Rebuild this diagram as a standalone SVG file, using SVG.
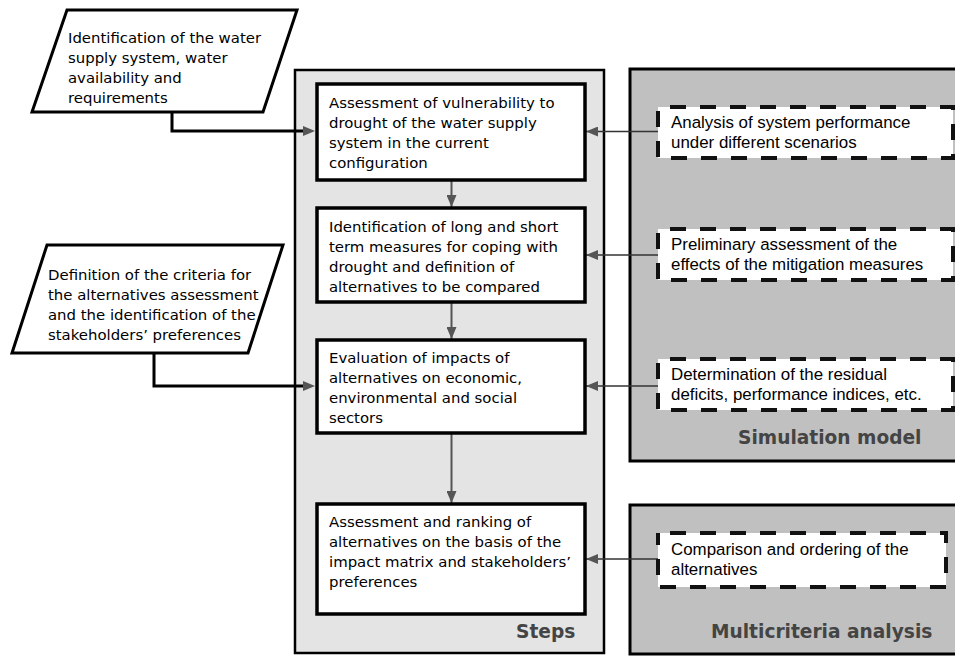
<svg xmlns="http://www.w3.org/2000/svg" width="955" height="656" viewBox="0 0 955 656">
<defs>
<marker id="ah" markerWidth="12" markerHeight="10" refX="12" refY="5" orient="auto" markerUnits="userSpaceOnUse">
<path d="M0,0 L12,5 L0,10 Z" fill="#555"/>
</marker>
<style>
.t{font-family:"DejaVu Sans",Verdana,sans-serif;font-size:14.9px;fill:#000}
.a{font-family:"Liberation Sans",Arial,sans-serif;font-size:16.9px;fill:#000}
.ttl{font-family:"DejaVu Sans",Verdana,sans-serif;font-weight:bold;font-size:18.6px;fill:#444}
.para{fill:#fff;stroke:#000;stroke-width:3}
.step{fill:#fff;stroke:#000;stroke-width:3.5}
.dash{fill:#fff;stroke:#111;stroke-width:4;stroke-dasharray:16 14;stroke-dashoffset:18}
.conn{fill:none;stroke:#000;stroke-width:3}
.vconn{fill:none;stroke:#555;stroke-width:2}
.hconn{fill:none;stroke:#333;stroke-width:1.6}
</style>
</defs>
<rect width="955" height="656" fill="#fff"/>

<g id="panel-steps">
<rect x="295" y="70" width="309" height="583" fill="#e4e4e4" stroke="#000" stroke-width="2.5"/>
<text class="ttl" x="516" y="638">Steps</text>
</g>
<g id="panel-simulation">
<rect x="630" y="69" width="330" height="392" fill="#c0c0c0" stroke="#000" stroke-width="3"/>
<text class="ttl" x="738" y="444">Simulation model</text>
</g>
<g id="panel-multicriteria">
<rect x="630" y="505" width="330" height="149" fill="#c0c0c0" stroke="#000" stroke-width="3"/>
<text class="ttl" x="711" y="638">Multicriteria analysis</text>
</g>

<g id="connectors">
<polyline class="conn" points="172,112 172,131 303,131"/>
<path d="M303,126 L315,131 L303,136 Z" fill="#555"/>
<polyline class="conn" points="154,353 154,386 303,386"/>
<path d="M303,381 L315,386 L303,391 Z" fill="#555"/>
<line class="vconn" x1="451.5" y1="181" x2="451.5" y2="207" marker-end="url(#ah)"/>
<line class="vconn" x1="451.5" y1="302" x2="451.5" y2="339" marker-end="url(#ah)"/>
<line class="vconn" x1="451.5" y1="433" x2="451.5" y2="503" marker-end="url(#ah)"/>
<line class="hconn" x1="658" y1="131.5" x2="586" y2="131.5" marker-end="url(#ah)"/>
<line class="hconn" x1="658" y1="255" x2="586" y2="255" marker-end="url(#ah)"/>
<line class="hconn" x1="658" y1="386" x2="586" y2="386" marker-end="url(#ah)"/>
<line class="hconn" x1="658" y1="559" x2="586" y2="559" marker-end="url(#ah)"/>
</g>

<g id="input-1">
<polygon class="para" points="67,10 297,10 263,112 32,112"/>
<text class="t" x="68"><tspan x="68" y="43">Identification of the water</tspan><tspan x="68" y="63">supply system, water</tspan><tspan x="68" y="83">availability and</tspan><tspan x="68" y="103">requirements</tspan></text>
</g>
<g id="input-2">
<polygon class="para" points="47,245 283,245 248,353 12,353"/>
<text class="t" x="48"><tspan x="48" y="280">Definition of the criteria for</tspan><tspan x="48" y="300">the alternatives assessment</tspan><tspan x="48" y="320">and the identification of the</tspan><tspan x="48" y="340">stakeholders’ preferences</tspan></text>
</g>

<g id="step-1">
<rect class="step" x="317" y="84" width="268" height="96"/>
<text class="t"><tspan x="329" y="108">Assessment of vulnerability to</tspan><tspan x="329" y="128">drought of the water supply</tspan><tspan x="329" y="148">system in the current</tspan><tspan x="329" y="168">configuration</tspan></text>
</g>
<g id="step-2">
<rect class="step" x="317" y="208" width="268" height="94"/>
<text class="t"><tspan x="329" y="232">Identification of long and short</tspan><tspan x="329" y="252">term measures for coping with</tspan><tspan x="329" y="272">drought and definition of</tspan><tspan x="329" y="292">alternatives to be compared</tspan></text>
</g>
<g id="step-3">
<rect class="step" x="317" y="340" width="268" height="93"/>
<text class="t"><tspan x="329" y="363">Evaluation of impacts of</tspan><tspan x="329" y="383">alternatives on economic,</tspan><tspan x="329" y="403">environmental and social</tspan><tspan x="329" y="423">sectors</tspan></text>
</g>
<g id="step-4">
<rect class="step" x="317" y="504" width="268" height="110"/>
<text class="t"><tspan x="329" y="527">Assessment and ranking of</tspan><tspan x="329" y="547">alternatives on the basis of the</tspan><tspan x="329" y="567">impact matrix and stakeholders’</tspan><tspan x="329" y="587">preferences</tspan></text>
</g>

<g id="sim-1">
<rect class="dash" x="658" y="107" width="295" height="51"/>
<text class="a"><tspan x="671" y="128">Analysis of system performance</tspan><tspan x="671" y="148">under different scenarios</tspan></text>
</g>
<g id="sim-2">
<rect class="dash" x="658" y="229" width="295" height="51"/>
<text class="a"><tspan x="671" y="250">Preliminary assessment of the</tspan><tspan x="671" y="270">effects of the mitigation measures</tspan></text>
</g>
<g id="sim-3">
<rect class="dash" x="658" y="359" width="295" height="51"/>
<text class="a"><tspan x="671" y="380">Determination of the residual</tspan><tspan x="671" y="400">deficits, performance indices, etc.</tspan></text>
</g>
<g id="mca-1">
<rect class="dash" x="658" y="533" width="288" height="54"/>
<text class="a"><tspan x="671" y="555">Comparison and ordering of the</tspan><tspan x="671" y="575">alternatives</tspan></text>
</g>
</svg>
